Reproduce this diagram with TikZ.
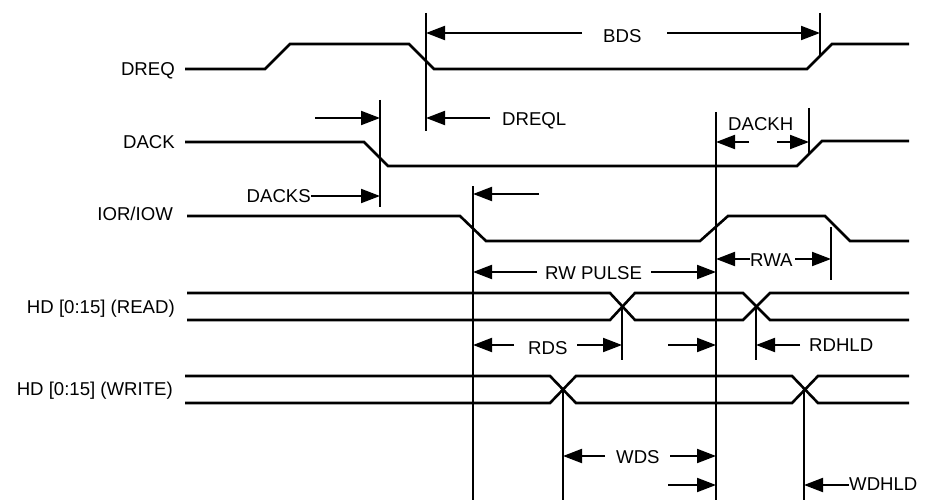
\documentclass[tikz,border=0pt]{standalone}
\usepackage{fontspec}
\setmainfont{Liberation Sans}
\usetikzlibrary{arrows.meta}
\begin{document}
\begin{tikzpicture}[x=1pt,y=-1pt,
  sig/.style={line width=2.6pt, line join=miter},
  vline/.style={line width=2pt},
  dim/.style={line width=2pt,-{Triangle[length=19pt,width=14pt]}},
  lbl/.style={font=\fontsize{18.6}{20}\selectfont, inner sep=0pt}]
\useasboundingbox (0,0) rectangle (926,500);

% signal names
\node[lbl, anchor=base east] (ndreq) at (175,76) {DREQ};
\node[lbl, anchor=base east] (ndack) at (175,148) {DACK};
\node[lbl, anchor=base east] (nior) at (173,220) {IOR/IOW};
\node[lbl, anchor=base east] (nread) at (175,313) {HD [0:15] (READ)};
\node[lbl, anchor=base east] (nwrite) at (173,395) {HD [0:15] (WRITE)};

% waveforms
\draw[sig] (185,69) -- (265,69) -- (290,44) -- (409,44) -- (434,69) -- (807,69) -- (832,44) -- (909,44);
\draw[sig] (185,142) -- (364,142) -- (388,166) -- (797,166) -- (822,141) -- (909,141);
\draw[sig] (187,216) -- (460,216) -- (486,241) -- (700,241) -- (728,216) -- (825,216) -- (850,241) -- (909,241);
\draw[sig] (187,293) -- (610,293) -- (635,320) -- (743,320) -- (770,293) -- (909,293);
\draw[sig] (187,320) -- (610,320) -- (635,293) -- (743,293) -- (770,320) -- (909,320);
\draw[sig] (185,376) -- (550,376) -- (576,403) -- (792,403) -- (818,376) -- (909,376);
\draw[sig] (185,403) -- (550,403) -- (576,376) -- (792,376) -- (818,403) -- (909,403);

% reference verticals
\draw[vline] (426,13) -- (426,131);
\draw[vline] (820,13) -- (820,55);
\draw[vline] (380,100) -- (380,207);
\draw[vline] (716,112) -- (716,500);
\draw[vline] (809,108) -- (809,153);
\draw[vline] (473,186) -- (473,500);
\draw[vline] (831,227) -- (831,280);
\draw[vline] (622,306) -- (622,360);
\draw[vline] (756,306) -- (756,360);
\draw[vline] (563,389) -- (563,500);
\draw[vline] (804,389) -- (804,500);

% timing labels
\node[lbl, anchor=base west] (bds) at (603,42.5) {BDS};
\node[lbl, anchor=base west] (dreql) at (502,125) {DREQL};
\node[lbl, anchor=base east] (dacks) at (311,202.5) {DACKS};
\node[lbl, anchor=base west] (dackh) at (728,130.5) {DACKH};
\node[lbl, anchor=base west] (rwp) at (545,279) {RW PULSE};
\node[lbl, anchor=base west] (rwa) at (750,266) {RWA};
\node[lbl, anchor=base west] (rds) at (528,354) {RDS};
\node[lbl, anchor=base west] (rdhld) at (809,351.5) {RDHLD};
\node[lbl, anchor=base west] (wds) at (616,463) {WDS};
\node[lbl, anchor=base west] (wdhld) at (849,490.5) {WDHLD};

% dimension arrows
\draw[dim] (582,33) -- (426,33);
\draw[dim] (667,33) -- (820,33);
\draw[dim] (490,118) -- (426,118);
\draw[dim] (315,118) -- (380,118);
\draw[dim] (311,196) -- (380,196);
\draw[dim] (539,194) -- (473,194);
\draw[dim] (749,142) -- (716,142);
\draw[dim] (777,142) -- (809,142);
\draw[dim] (537,272) -- (473,272);
\draw[dim] (651,272) -- (716,272);
\draw[dim] (750,259) -- (716,259);
\draw[dim] (795,259) -- (831,259);
\draw[dim] (514,345) -- (473,345);
\draw[dim] (577,345) -- (622,345);
\draw[dim] (668,345) -- (716,345);
\draw[dim] (800,345) -- (756,345);
\draw[dim] (605,456) -- (563,456);
\draw[dim] (670,456) -- (716,456);
\draw[dim] (668,485) -- (716,485);
\draw[dim] (849,485) -- (804,485);
\end{tikzpicture}
\end{document}
